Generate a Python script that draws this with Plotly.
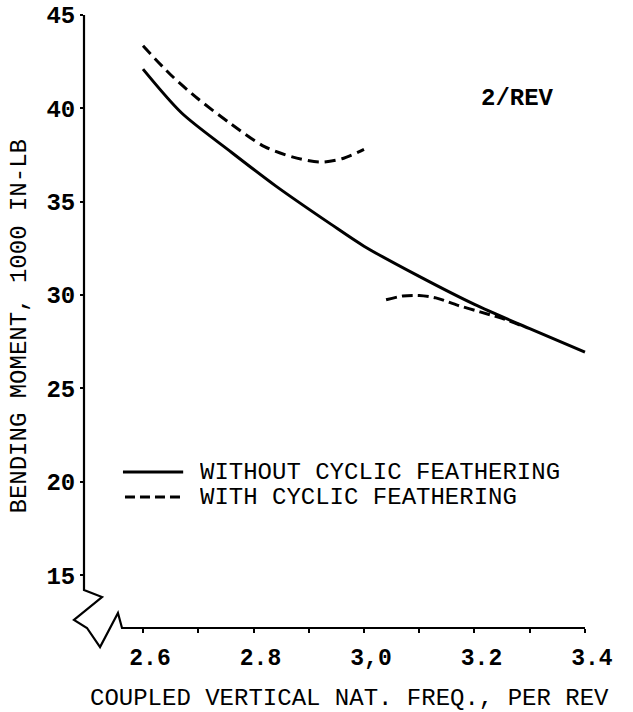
import plotly.graph_objects as go

# curve values
freq_without = [2.6, 2.67, 2.76, 2.84, 2.94, 3.0, 3.1, 3.2, 3.3, 3.4]
moment_without = [42.1, 39.75, 37.65, 35.85, 33.8, 32.62, 31.0, 29.5, 28.2, 26.95]

freq_with_low = [2.6, 2.65, 2.7, 2.76, 2.82, 2.87, 2.92, 2.96, 3.0]
moment_with_low = [43.35, 41.8, 40.5, 39.15, 37.95, 37.4, 37.12, 37.3, 37.8]

freq_with_high = [3.04, 3.07, 3.1, 3.13, 3.17, 3.21, 3.25, 3.29]
moment_with_high = [29.75, 29.95, 29.98, 29.85, 29.45, 29.1, 28.75, 28.3]

x_ticks = [2.6, 2.7, 2.8, 2.9, 3.0, 3.1, 3.2, 3.3, 3.4]
x_ticktext = ["2.6", "", "2.8", "", "3,0", "", "3.2", "", "3.4"]
y_ticks = [15, 20, 25, 30, 35, 40, 45]

FONT = "Liberation Mono"
X_RANGE = [2.4932, 3.4091]
Y_RANGE = [12.17, 45]


def to_paper(x, y):
    px = (x - X_RANGE[0]) / (X_RANGE[1] - X_RANGE[0])
    py = (y - Y_RANGE[0]) / (Y_RANGE[1] - Y_RANGE[0])
    return px, py


fig = go.Figure()

fig.add_trace(go.Scatter(
    x=freq_without, y=moment_without, mode="lines",
    line=dict(color="black", width=3, shape="spline", smoothing=0.8),
    name="WITHOUT CYCLIC FEATHERING", showlegend=False,
))
fig.add_trace(go.Scatter(
    x=freq_with_low, y=moment_with_low, mode="lines",
    line=dict(color="black", width=3, dash="11px,6px", shape="spline", smoothing=0.8),
    name="WITH CYCLIC FEATHERING", showlegend=False,
))
fig.add_trace(go.Scatter(
    x=freq_with_high, y=moment_with_high, mode="lines",
    line=dict(color="black", width=3, dash="11px,5px", shape="spline", smoothing=0.8),
    showlegend=False,
))

# axis lines with the broken-axis zigzag at the origin (paper coords, not clipped)
brk = [(2.4932, 45), (2.4932, 14.2), (2.5258, 13.83), (2.4751, 12.6),
       (2.4986, 12.17), (2.5222, 11.15), (2.5547, 12.97), (2.562, 12.17),
       (3.4, 12.17)]
pts = [to_paper(x, y) for x, y in brk]
path = "M " + " L ".join(f"{px:.4f},{py:.4f}" for px, py in pts)
fig.add_shape(type="path", path=path, xref="paper", yref="paper",
              line=dict(color="black", width=2.2))

# hand-drawn legend
lx0, lx1 = 0.077, 0.196
fig.add_shape(type="line", xref="paper", yref="paper", x0=lx0, x1=lx1,
              y0=0.2545, y1=0.2545, line=dict(color="black", width=3))
fig.add_shape(type="line", xref="paper", yref="paper", x0=lx0 + 0.004, x1=lx1 - 0.006,
              y0=0.2137, y1=0.2137, line=dict(color="black", width=3, dash="10px,5px"))
fig.add_annotation(text="WITHOUT CYCLIC FEATHERING", xref="paper", yref="paper",
                   x=0.2253, y=0.2545, xanchor="left", yanchor="middle", showarrow=False,
                   height=24, font=dict(family=FONT, size=24, color="black"))
fig.add_annotation(text="WITH CYCLIC FEATHERING", xref="paper", yref="paper",
                   x=0.2253, y=0.2137, xanchor="left", yanchor="middle", showarrow=False,
                   height=24, font=dict(family=FONT, size=24, color="black"))

fig.add_annotation(text="2/REV", x=3.277, y=40.55, showarrow=False,
                   font=dict(family=FONT, size=24, color="black", weight="bold"))

# axis titles
fig.add_annotation(text="COUPLED VERTICAL NAT. FREQ., PER REV", xref="paper", yref="paper",
                   x=0.5247, y=-0.1142, showarrow=False, xanchor="center", yanchor="middle",
                   font=dict(family=FONT, size=24, color="black"))
fig.add_annotation(text="BENDING MOMENT, 1000 IN-LB", xref="paper", yref="paper",
                   x=-0.1265, y=0.4918, showarrow=False, textangle=-90,
                   xanchor="center", yanchor="middle",
                   font=dict(family=FONT, size=24, color="black"))

fig.update_xaxes(
    range=X_RANGE, showgrid=False, zeroline=False, showline=False, automargin=False,
    tickmode="array", tickvals=x_ticks, ticktext=x_ticktext,
    ticks="outside", ticklen=4, tickwidth=2, tickcolor="black",
    ticklabelstandoff=4, ticklabelshift=7, ticklabeloverflow="allow",
    tickfont=dict(family=FONT, size=23, color="black", weight="bold"),
)
fig.update_yaxes(
    range=Y_RANGE, showgrid=False, zeroline=False, showline=False, automargin=False,
    tickmode="array", tickvals=y_ticks,
    ticks="outside", ticklen=3, tickwidth=2, tickcolor="black",
    ticklabelstandoff=0, ticklabeloverflow="allow",
    tickfont=dict(family=FONT, size=24, color="black", weight="bold"),
)

fig.update_layout(
    width=633, height=712,
    margin=dict(l=84, r=43, t=15, b=84),
    plot_bgcolor="white", paper_bgcolor="white",
    showlegend=False,
)

# drop the default 8px page margin so the figure fills the window exactly
fig.write_html("out.html", config={"displayModeBar": False},
               post_script="document.body.style.margin='0';")
